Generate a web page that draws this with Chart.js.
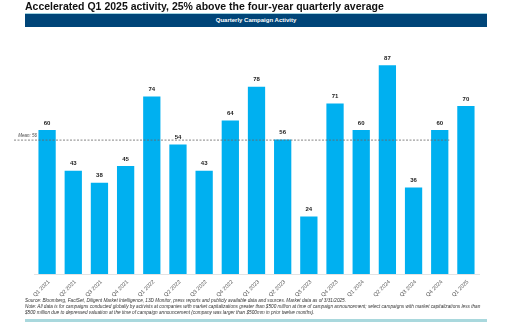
<!DOCTYPE html>
<html>
<head>
<meta charset="utf-8">
<script src="https://cdn.jsdelivr.net/npm/chart.js@4"></script>
<style>
  html, body { margin: 0; padding: 0; background: #fff; }
  body { width: 511px; height: 322px; position: relative; overflow: hidden; font-family: "Liberation Sans", Arial, sans-serif; }
  #chart { position: absolute; left: 0; top: 0; }
  .title { position: absolute; left: 25px; top: 0px; font-size: 10.5px; font-weight: bold; color: #111; white-space: nowrap; }
  .band { position: absolute; left: 25px; top: 13px; width: 462px; height: 13px; background: #004578; border-top: 1px solid #9fd3e0;
          color: #fff; font-size: 6px; font-weight: bold; text-align: center; line-height: 13px; }
  .foot { position: absolute; left: 25px; top: 298px; width: 462px; font-size: 4.7px; line-height: 6px; color: #333; font-style: italic; }
  .rule { position: absolute; left: 25px; top: 319px; width: 462px; height: 3px; background: #a9d8dd; }
</style>
</head>
<body>
<canvas id="chart" width="511" height="322"></canvas>
<div class="title">Accelerated Q1 2025 activity, 25% above the four-year quarterly average</div>
<div class="band">Quarterly Campaign Activity</div>
<div class="foot">Source: Bloomberg, FactSet, Diligent Market Intelligence, 13D Monitor, press reports and publicly available data and sources. Market data as of 3/31/2025.<br>Note: All data is for campaigns conducted globally by activists at companies with market capitalizations greater than $500 million at time of campaign announcement; select campaigns with market capitalizations less than $500 million due to depressed valuation at the time of campaign announcement (company was larger than $500mm in prior twelve months).</div>
<div class="rule"></div>
<script>
const quarters = ["Q1 2021", "Q2 2021", "Q3 2021", "Q4 2021", "Q1 2022", "Q2 2022", "Q3 2022", "Q4 2022",
  "Q1 2023", "Q2 2023", "Q3 2023", "Q4 2023", "Q1 2024", "Q2 2024", "Q3 2024", "Q4 2024", "Q1 2025"];
const campaigns = [60, 43, 38, 45, 74, 54, 43, 64, 78, 56, 24, 71, 60, 87, 36, 60, 70];
const meanValue = 56;
const meanLabel = "Mean: 56";

// value labels over each bar
const valueLabels = {
  id: "valueLabels",
  afterDatasetsDraw(chart) {
    const ctx = chart.ctx;
    const meta = chart.getDatasetMeta(0);
    ctx.save();
    ctx.font = "bold 6px 'Liberation Sans', Arial, sans-serif";
    ctx.fillStyle = "#222";
    ctx.textAlign = "center";
    ctx.textBaseline = "bottom";
    meta.data.forEach((bar, i) => {
      ctx.fillText(String(campaigns[i]), bar.x, bar.y - 4);
    });
    ctx.restore();
  },
};

// slanted quarter labels under the axis
const quarterLabels = {
  id: "quarterLabels",
  afterDraw(chart) {
    const ctx = chart.ctx;
    const xs = chart.scales.x;
    const base = chart.chartArea.bottom;
    ctx.save();
    ctx.font = "5.5px 'Liberation Sans', Arial, sans-serif";
    ctx.fillStyle = "#555";
    ctx.textAlign = "right";
    ctx.textBaseline = "middle";
    quarters.forEach((q, i) => {
      ctx.save();
      ctx.translate(xs.getPixelForTick(i) + 2, base + 7);
      ctx.rotate(-Math.PI / 4);
      ctx.fillText(q, 0, 0);
      ctx.restore();
    });
    ctx.restore();
  },
};

// dashed mean line, stops before the last quarter
const meanLine = {
  id: "meanLine",
  afterDatasetsDraw(chart) {
    const ctx = chart.ctx;
    const y = chart.scales.y.getPixelForValue(meanValue);
    const meta = chart.getDatasetMeta(0);
    const last = meta.data[meta.data.length - 1];
    ctx.save();
    ctx.strokeStyle = "#666";
    ctx.lineWidth = 0.8;
    ctx.setLineDash([2, 1.5]);
    ctx.beginPath();
    ctx.moveTo(14, y + 0.5);
    ctx.lineTo(last.x - last.width / 2 - 8, y + 0.5);
    ctx.stroke();
    ctx.setLineDash([]);
    ctx.font = "italic 4.5px 'Liberation Sans', Arial, sans-serif";
    ctx.fillStyle = "#444";
    ctx.textAlign = "right";
    ctx.textBaseline = "bottom";
    ctx.fillText(meanLabel, 37, y - 2);
    ctx.restore();
  },
};

new Chart(document.getElementById("chart"), {
  type: "bar",
  data: {
    labels: quarters,
    datasets: [
      {
        data: campaigns,
        backgroundColor: "#00b0f0",
        categoryPercentage: 1,
        barPercentage: 0.66,
      },
    ],
  },
  options: {
    responsive: false,
    animation: false,
    layout: { padding: { left: 34, right: 32, top: 34, bottom: 48 } },
    plugins: { legend: { display: false }, tooltip: { enabled: false } },
    scales: {
      x: {
        grid: { display: false, drawTicks: false },
        border: { color: "#e3e3e3", width: 1 },
        ticks: { display: false },
      },
      y: { display: false, min: 0, max: 100 },
    },
  },
  plugins: [meanLine, valueLabels, quarterLabels],
});
</script>
</body>
</html>
